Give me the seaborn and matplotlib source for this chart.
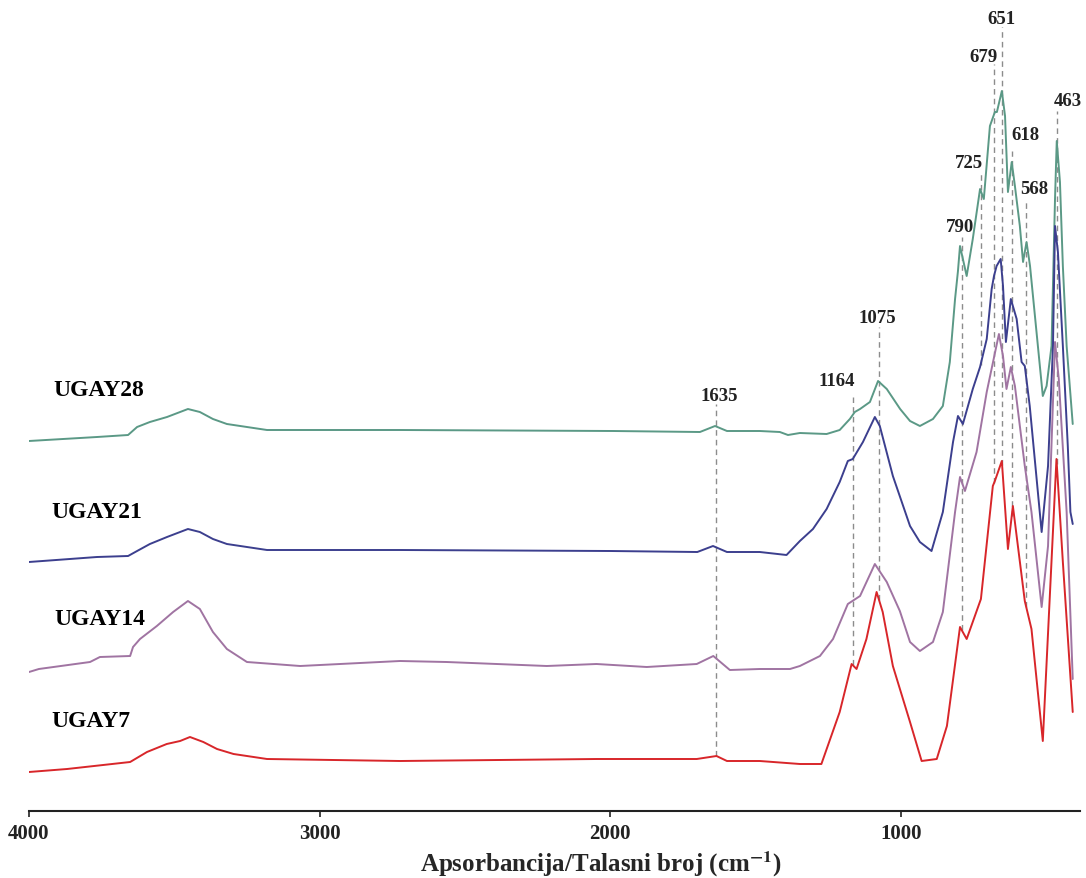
import numpy as np
import pandas as pd
import matplotlib
matplotlib.use("Agg")
import matplotlib.pyplot as plt
import seaborn as sns

# spectra (wavenumber in cm-1, stacked absorbance in a.u.)
wn_ugay28 = [4000, 3766, 3659, 3628, 3584, 3525, 3480, 3453, 3412, 3367, 3319, 3250, 3181, 2723, 1990, 1691,
             1639, 1598, 1529, 1485, 1416, 1388, 1347,
             1255, 1210, 1175, 1158, 1140, 1106, 1078, 1048, 1002, 968, 934, 889, 855, 831, 813, 803, 796,
             773, 752, 727, 714, 693, 676, 669, 652, 641, 631, 618, 607, 590, 579, 567, 555, 511, 498, 481,
             469, 463, 452, 442, 429, 408]
ab_ugay28 = [370, 374, 376, 384, 389, 394, 399, 402, 399, 392, 387, 384, 381, 381, 380, 379,
             385, 380, 380, 380, 379, 376, 378,
             377, 381, 392, 399, 402, 409, 430, 422, 402, 390, 385, 392, 405, 449, 512, 540, 565,
             535, 572, 622, 612, 685, 699, 699, 720, 695, 619, 649, 625, 585, 549, 569, 545, 415, 425, 465,
             612, 670, 629, 545, 465, 387]

wn_ugay21 = [4000, 3766, 3659, 3628, 3584, 3525, 3480, 3453, 3412, 3367, 3319, 3250, 3181, 2723, 2000, 1700,
             1646, 1598, 1485, 1393, 1347, 1302, 1255,
             1210, 1182, 1165, 1130, 1089, 1072, 1027, 968, 934, 894, 855, 820, 803, 786, 752, 727, 704,
             687, 679, 670, 656, 648, 638, 621, 601, 584, 573, 556, 515, 493, 476, 469, 459, 442, 425, 416, 408]
ab_ugay21 = [249, 254, 255, 260, 267, 274, 279, 282, 279, 272, 267, 264, 261, 261, 260, 259,
             265, 259, 259, 256, 270, 282, 302,
             329, 350, 352, 369, 394, 385, 335, 285, 269, 260, 299, 369, 395, 387, 422, 444, 472,
             522, 535, 545, 552, 525, 469, 512, 492, 449, 445, 405, 279, 345, 465, 585, 559, 465, 365, 299, 287]

wn_ugay14 = [4000, 3966, 3790, 3756, 3652, 3642, 3618, 3560, 3504, 3453, 3412, 3367, 3319, 3250, 3067, 2723,
             2563, 2218, 2047, 1874, 1702, 1645, 1588, 1485, 1381, 1347, 1278, 1233, 1182, 1140, 1089, 1048,
             1003, 968, 934, 889, 855, 813, 796, 779, 739, 704, 662, 648, 636, 621, 607, 573, 550, 515, 493,
             469, 456, 429, 408]
ab_ugay14 = [139, 142, 149, 154, 155, 164, 172, 185, 199, 210, 202, 179, 162, 149, 145, 150,
             149, 145, 147, 144, 147, 155, 141, 142, 142, 145, 155, 172, 207, 215, 247, 229,
             200, 169, 160, 169, 199, 299, 334, 320, 359, 419, 477, 455, 422, 444, 425, 345, 299, 204, 265,
             469, 432, 299, 132]

wn_ugay7 = [4000, 3869, 3652, 3594, 3526, 3480, 3446, 3400, 3353, 3296, 3181, 2723, 2047, 1702, 1634, 1598,
            1485, 1347, 1273, 1210,
            1169, 1152, 1118, 1083, 1062, 1027, 968, 928, 876, 841, 796, 773, 724, 683, 676, 652, 631, 614,
            573, 550, 511, 464, 442, 408]
ab_ugay7 = [39, 42, 49, 59, 67, 70, 74, 69, 62, 57, 52, 50, 52, 52, 55, 50,
            50, 47, 47, 99,
            147, 142, 172, 219, 199, 145, 89, 50, 52, 85, 184, 172, 212, 325, 330, 350, 262, 305,
            210, 182, 70, 352, 249, 99]

samples = ["UGAY28", "UGAY21", "UGAY14", "UGAY7"]
colors = ["#5b9986", "#3c3f8e", "#a074a2", "#d8262a"]

# sample name positions (wavenumber, a.u.)
name_x = [3916, 3922, 3911, 3922]
name_y = [421, 299, 192, 90]

# marked bands: label, label position, top of dashed guide, sample where guide stops
band_wn = [1635, 1164, 1075, 790, 725, 679, 651, 618, 568, 463]
band_label_x = [1626, 1221, 1080, 796, 765, 714, 652, 570, 540, 424]
band_label_y = [415, 430, 493, 584, 649, 754, 793, 676, 622, 710]
band_line_top = [407, 414, 484, 574, 639, 747, 784, 660, 612, 700]
band_line_end = ["UGAY7", "UGAY7", "UGAY7", "UGAY7", "UGAY21", "UGAY7", "UGAY7", "UGAY7", "UGAY7", "UGAY7"]

spectra = {
    "UGAY28": (wn_ugay28, ab_ugay28),
    "UGAY21": (wn_ugay21, ab_ugay21),
    "UGAY14": (wn_ugay14, ab_ugay14),
    "UGAY7": (wn_ugay7, ab_ugay7),
}

frames = []
for name in samples:
    wn, ab = spectra[name]
    frames.append(pd.DataFrame({"wavenumber": wn, "absorbance": ab, "sample": name}))
df = pd.concat(frames, ignore_index=True)

sns.set_style("white")
plt.rcParams["font.family"] = ["Liberation Serif", "DejaVu Serif"]
plt.rcParams["mathtext.fontset"] = "stix"

fig = plt.figure(figsize=(10.86, 8.79), dpi=100)
ax = fig.add_axes([29 / 1086, 67 / 879, 1051 / 1086, 812 / 879])

for i, wn in enumerate(band_wn):
    x_end, y_end = spectra[band_line_end[i]]
    bottom = np.interp(wn, x_end[::-1], y_end[::-1])
    ax.plot([wn, wn], [bottom, band_line_top[i]], color="#8c8c8c", lw=1.0,
            linestyle=(0, (4, 3)), zorder=1)
    ax.text(band_label_x[i], band_label_y[i], str(wn), ha="center", va="center",
            fontsize=13.5, fontweight="bold", color="#222222")

sns.lineplot(data=df, x="wavenumber", y="absorbance", hue="sample",
             palette=dict(zip(samples, colors)), estimator=None, sort=False,
             legend=False, linewidth=1.4, ax=ax, zorder=2)

for i, name in enumerate(samples):
    ax.text(name_x[i], name_y[i], name, ha="left", va="center",
            fontsize=17, fontweight="bold", color="black")

ax.set_xlim(4000, 383)
ax.set_ylim(0, 812)
ax.set_xticks([4000, 3000, 2000, 1000])
ax.set_yticks([])
ax.set_ylabel("")
ax.set_xlabel(r"Apsorbancija/Talasni broj (cm$^{\mathbf{-1}}$)", fontsize=18,
              fontweight="bold", va="top")
ax.xaxis.set_label_coords(0.544, -0.046)
for side in ["left", "right", "top"]:
    ax.spines[side].set_visible(False)
ax.spines["bottom"].set_color("#222222")
ax.spines["bottom"].set_linewidth(1.5)
ax.tick_params(axis="x", direction="out", length=4, width=1.2, pad=5,
               labelsize=15, colors="#222222", bottom=True)
for lbl in ax.get_xticklabels():
    lbl.set_fontweight("bold")

fig.savefig("out.png", dpi=100, facecolor="white")
